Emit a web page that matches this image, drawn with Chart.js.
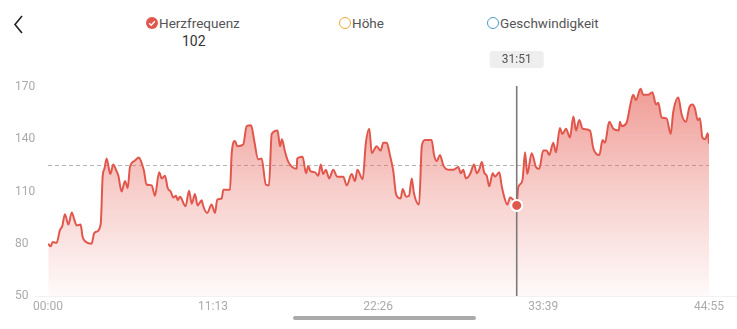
<!DOCTYPE html>
<html>
<head>
<meta charset="utf-8">
<script src="https://cdn.jsdelivr.net/npm/chart.js@4.4.1/dist/chart.umd.min.js"></script>
<style>
  html, body { margin: 0; padding: 0; background: #fff; }
  body { width: 737px; height: 329px; position: relative; overflow: hidden; font-family: Roboto, "Noto Sans", sans-serif; }
  #hr-canvas { position: absolute; left: 0; top: 0; }
  .legend { position: absolute; top: 14px; font-size: 13.5px; color: #555; line-height: 18px; white-space: nowrap; }
  .legend .ico { position: absolute; left: -13.5px; top: 3px; width: 12px; height: 12px; border-radius: 50%; box-sizing: border-box; }
  .legend svg.ico { border-radius: 0; }
  .hr-val { position: absolute; top: 33px; left: 182px; font-size: 14px; color: #333; }
  .back { position: absolute; left: 12px; top: 14px; }
  .scrollbar { position: absolute; left: 293px; top: 316px; width: 183px; height: 4px; border-radius: 2px; background: #aaa; }
</style>
</head>
<body>
<svg class="back" width="16" height="22"><polyline points="10,2 3,10.5 10,19" fill="none" stroke="#222" stroke-width="1.6"/></svg>
<div class="legend" style="left:159px"><svg class="ico" width="12" height="12"><circle cx="6" cy="6" r="6" fill="#e2574c"/><polyline points="3.2,6.2 5.2,8.2 8.9,4.3" fill="none" stroke="#fff" stroke-width="1.5"/></svg>Herzfrequenz</div>
<div class="hr-val">102</div>
<div class="legend" style="left:352px"><span class="ico" style="border:1.5px solid #efa834"></span>Höhe</div>
<div class="legend" style="left:500px"><span class="ico" style="border:1.5px solid #4a9bc9"></span>Geschwindigkeit</div>
<canvas id="hr-canvas" width="737" height="329"></canvas>
<div class="scrollbar"></div>
<script>
(function() {
    'use strict';

    // elapsed seconds of each sample
    var seconds = [1, 11, 19, 35, 49, 58, 69, 83, 97, 107, 117, 133, 141, 155, 178, 188, 199, 215, 223, 230,
        239, 254, 266, 277, 287, 300, 314, 325, 334, 352, 371, 379, 391, 402, 423, 436, 453, 464, 477, 488,
        500, 511, 522, 529, 538, 561, 575, 586, 599, 610, 627, 631, 649, 667, 681, 690, 708, 715, 742, 749,
        762, 772, 796, 810, 828, 841, 857, 871, 888, 901, 912, 936, 946, 954, 966, 980, 1014, 1016, 1038, 1052,
        1061, 1071, 1089, 1102, 1112, 1122, 1133, 1146, 1163, 1179, 1204, 1218, 1238, 1252, 1261, 1283, 1296, 1310, 1320, 1340,
        1356, 1367, 1381, 1394, 1408, 1419, 1438, 1446, 1460, 1472, 1483, 1492, 1513, 1524, 1537, 1564, 1574, 1585, 1598, 1612,
        1632, 1652, 1673, 1683, 1693, 1704, 1721, 1737, 1748, 1758, 1769, 1778, 1789, 1799, 1813, 1822, 1840, 1850, 1859, 1873,
        1884, 1895, 1911, 1916, 1924, 1935, 1945, 1954, 1972, 1990, 2003, 2019, 2033, 2044, 2060, 2071, 2087, 2097, 2112, 2128,
        2142, 2153, 2166, 2180, 2210, 2223, 2248, 2261, 2271, 2288, 2305, 2327, 2332, 2339, 2359, 2376, 2386, 2397, 2416, 2427,
        2447, 2464, 2479, 2488, 2502, 2522, 2539, 2549, 2570, 2583, 2601, 2615, 2628, 2638, 2649, 2658, 2668, 2679, 2690, 2695];

    // heart rate (bpm)
    var heartRate = [80, 78.5, 81, 80.5, 88, 90, 97, 91, 98, 94, 90.5, 91, 84, 81, 80, 86, 87, 91.5, 119, 123,
        129, 120, 125.5, 122.5, 119, 110, 116, 112, 124, 127.5, 129.5, 127.5, 122, 114, 113.5, 107.5, 121, 117.5, 119, 112,
        110, 106.5, 107.5, 105, 107, 101.5, 110.5, 103, 108.5, 102, 105, 102.5, 97.7, 102.5, 97.7, 105.4, 106, 111, 111, 132,
        139, 136, 137, 147.5, 148, 139, 128.5, 129, 114, 113.5, 143, 145, 136, 140, 133, 127, 123, 129, 130, 120.5,
        124.5, 121.5, 121, 119, 125.5, 120, 122.5, 117.5, 122.5, 118.5, 118.5, 113.5, 120, 116, 122.5, 117, 138, 146, 132, 136,
        133.5, 138, 138, 131, 121.5, 108.5, 106, 111.5, 107, 107.5, 117.5, 109, 102.5, 136, 139.5, 139.5, 131, 127.5, 131, 125,
        122.5, 122.5, 124, 120.5, 122.5, 117.5, 120, 125.5, 120.5, 122.5, 127, 121, 119, 113, 120.5, 118.5, 121, 113, 107.5, 102.5,
        106.5, 105.5, 102, 111.5, 114, 117, 132.5, 120, 132, 124, 123, 133.5, 133.5, 131, 138, 132.5, 146.5, 143, 146, 141,
        153, 145, 151, 146, 145, 135, 131, 139.5, 138, 150, 146, 145, 150, 147.5, 149.5, 161, 165.5, 162.5, 169, 165.5,
        165.5, 167, 160, 161, 152.5, 152, 143, 155.5, 164, 154.5, 150, 158.5, 160, 157.5, 151, 152, 141, 140, 143.5, 137.5];

    var yTicks = [50, 80, 110, 140, 170];
    var xTickSeconds = [0, 673, 1346, 2019, 2695];
    var xTickLabels = ['00:00', '11:13', '22:26', '33:39', '44:55'];

    var avgHeartRate = 125;
    var cursorSecond = 1911;
    var cursorLabel = '31:51';
    var cursorValue = 102;

    var lineColor = '#e2574c';
    var points = seconds.map(function(s, i) { return { x: s, y: heartRate[i] }; });

    function fillGradient(context) {
        var area = context.chart.chartArea;
        if (!area) {
            return 'rgba(226,87,76,0.3)';
        }
        var g = context.chart.ctx.createLinearGradient(0, area.top, 0, area.bottom);
        g.addColorStop(0, 'rgba(230,95,85,0.62)');
        g.addColorStop(0.5, 'rgba(230,95,85,0.3)');
        g.addColorStop(1, 'rgba(230,95,85,0.03)');
        return g;
    }

    var overlayPlugin = {
        id: 'hrOverlay',
        beforeDatasetsDraw: function(chart) {
            var ctx = chart.ctx;
            var ys = chart.scales.y;
            var area = chart.chartArea;
            ctx.save();
            // faint base line
            ctx.strokeStyle = '#f1f1f1';
            ctx.lineWidth = 1;
            ctx.beginPath();
            ctx.moveTo(area.left - 13, area.bottom + 0.5);
            ctx.lineTo(chart.width, area.bottom + 0.5);
            ctx.stroke();
            // average line
            var ay = Math.round(ys.getPixelForValue(avgHeartRate)) + 0.5;
            ctx.strokeStyle = '#b5b5b5';
            ctx.setLineDash([4, 3]);
            ctx.beginPath();
            ctx.moveTo(area.left, ay);
            ctx.lineTo(area.right, ay);
            ctx.stroke();
            ctx.restore();
        },
        afterDatasetDraw: function(chart, args) {
            if (args.index !== 0) {
                return;
            }
            var ctx = chart.ctx;
            var xs = chart.scales.x;
            var area = chart.chartArea;
            var cx = xs.getPixelForValue(cursorSecond);
            ctx.save();
            ctx.strokeStyle = '#7a7a7a';
            ctx.lineWidth = 1.6;
            ctx.beginPath();
            ctx.moveTo(cx, area.top - 1);
            ctx.lineTo(cx, area.bottom);
            ctx.stroke();
            // time badge
            var w = 54, h = 17, bx = cx - w / 2, by = 51;
            ctx.fillStyle = '#eeeeee';
            ctx.beginPath();
            ctx.roundRect(bx, by, w, h, 3);
            ctx.fill();
            ctx.fillStyle = '#555';
            ctx.font = '12px Roboto';
            ctx.textAlign = 'center';
            ctx.textBaseline = 'middle';
            ctx.fillText(cursorLabel, cx, by + h / 2 + 0.5);
            ctx.restore();
        }
    };

    var ctx = document.getElementById('hr-canvas').getContext('2d');
    var chartObj = new Chart(ctx, {
        type: 'line',
        data: {
            datasets: [{
                data: points,
                order: 1,
                borderColor: lineColor,
                borderWidth: 2,
                backgroundColor: fillGradient,
                fill: 'start',
                pointRadius: 0,
                tension: 0.35,
                cubicInterpolationMode: 'monotone'
            }, {
                data: [{ x: cursorSecond, y: cursorValue }],
                order: 0,
                pointRadius: 5.5,
                pointBackgroundColor: lineColor,
                pointBorderColor: '#fff',
                pointBorderWidth: 2,
                showLine: false
            }]
        },
        options: {
            responsive: false,
            animation: false,
            layout: { padding: { left: 15, right: 28, top: 87, bottom: 0 } },
            plugins: { legend: { display: false }, tooltip: { enabled: false } },
            scales: {
                x: {
                    type: 'linear',
                    min: 0,
                    max: 2695,
                    grid: { display: false, drawTicks: false },
                    border: { display: false },
                    afterBuildTicks: function(scale) {
                        scale.ticks = xTickSeconds.map(function(v) { return { value: v }; });
                    },
                    afterFit: function(scale) { scale.height = 33; },
                    ticks: {
                        autoSkip: false,
                        maxRotation: 0,
                        padding: 4,
                        color: '#aaa',
                        font: { family: 'Roboto', size: 12 },
                        callback: function(v) { return xTickLabels[xTickSeconds.indexOf(v)]; }
                    }
                },
                y: {
                    min: 50,
                    max: 170,
                    grid: { display: false, drawTicks: false },
                    border: { display: false },
                    afterBuildTicks: function(scale) {
                        scale.ticks = yTicks.map(function(v) { return { value: v }; });
                    },
                    afterFit: function(scale) { scale.width = 33; },
                    ticks: {
                        crossAlign: 'far',
                        color: '#aaa',
                        font: { family: 'Roboto', size: 12 }
                    }
                }
            }
        },
        plugins: [overlayPlugin]
    });
})();
</script>
</body>
</html>
